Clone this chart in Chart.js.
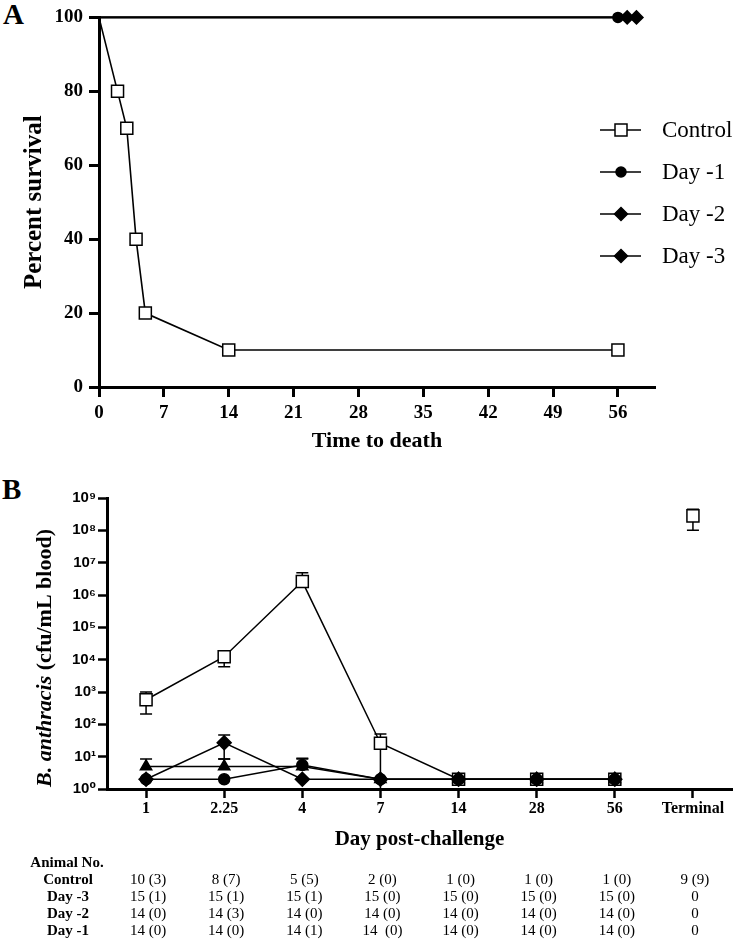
<!DOCTYPE html>
<html><head><meta charset="utf-8">
<script src="https://cdn.jsdelivr.net/npm/chart.js@4.4.0/dist/chart.umd.min.js"></script>
<style>
html,body{margin:0;padding:0;background:#fff;}
body{width:742px;height:939px;position:relative;overflow:hidden;}
canvas{position:absolute;left:0;}
.pl{position:absolute;font:bold 29px "Liberation Serif","Times New Roman",serif;line-height:28px;color:#000;}
</style></head><body>
<div class="pl" style="left:3px;top:0px">A</div>
<div class="pl" style="left:2px;top:475px">B</div>
<canvas id="ca" width="742" height="460" style="top:0px"></canvas>
<canvas id="cb" width="742" height="479" style="top:460px"></canvas>
<script>
// ---------- Panel A data ----------
const timeCtl = [0, 2, 3, 4, 5, 14, 56];
const survCtl = [100, 80, 70, 40, 20, 10, 10];
const timeD1 = [0, 56];
const survD1 = [100, 100];
const timeD2 = [0, 57];
const survD2 = [100, 100];
const timeD3 = [0, 58];
const survD3 = [100, 100];
const legendLabelsA = ['Control', 'Day -1', 'Day -2', 'Day -3'];

// ---------- Panel B data ----------
const catsB = ['1', '2.25', '4', '7', '14', '28', '56', 'Terminal'];
const ctlB  = [575, 12300, 2.6e6, 26, 2, 2, 2, 2.8e8];
const ctlHi = [1000, null, 4.9e6, 50, null, null, null, 4.5e8];
const ctlLo = [210, 6000, null, 1, null, null, null, 1e8];
const d1B   = [2, 2, 5.5, 2, 2, 2, 2, null];
const d1Hi  = [null, null, 9, null, null, null, null, null];
const d1Lo  = [null, null, null, null, null, null, null, null];
const d2B   = [2, 27, 2, 2, 2, 2, 2, null];
const d2Hi  = [null, 47, null, null, null, null, null, null];
const d2Lo  = [null, 8.5, null, null, null, null, null, null];
const d3B   = [5, 5, 5, 2, 2, 2, 2, null];
const d3Hi  = [8.5, 8.5, 8.5, null, null, null, null, null];
const d3Lo  = [null, null, null, null, null, null, null, null];
const tickPowB = [1, 10, 100, 1e3, 1e4, 1e5, 1e6, 1e7, 1e8, 1e9];

// ---------- Table ----------
const tableHeader = 'Animal No.';
const tableRowLabels = ['Control', 'Day -3', 'Day -2', 'Day -1'];
const tblCtl = ['10 (3)', '8 (7)', '5 (5)', '2 (0)', '1 (0)', '1 (0)', '1 (0)', '9 (9)'];
const tblD3  = ['15 (1)', '15 (1)', '15 (1)', '15 (0)', '15 (0)', '15 (0)', '15 (0)', '0'];
const tblD2  = ['14 (0)', '14 (3)', '14 (0)', '14 (0)', '14 (0)', '14 (0)', '14 (0)', '0'];
const tblD1  = ['14 (0)', '14 (0)', '14 (1)', '14  (0)', '14 (0)', '14 (0)', '14 (0)', '0'];

const SERIF = '"Liberation Serif", "Times New Roman", serif';
const SANS = '"Liberation Sans", Arial, "DejaVu Sans", sans-serif';
const zip = (xs, ys) => xs.map((x, i) => ({x, y: ys[i]}));
const endOnly = (arr, r) => arr.map((_, i) => i === arr.length - 1 ? r : 0);

function mark(ctx, style, x, y, fill) {
  ctx.beginPath();
  if (style === 'rect') ctx.rect(x - 6, y - 6, 12, 12);
  else if (style === 'circle') ctx.arc(x, y, 5, 0, Math.PI * 2);
  else { ctx.moveTo(x, y - 6.5); ctx.lineTo(x + 6.5, y); ctx.lineTo(x, y + 6.5); ctx.lineTo(x - 6.5, y); ctx.closePath(); }
  ctx.fillStyle = fill; ctx.fill(); ctx.stroke();
}

const legendA = {
  id: 'legendA',
  afterDraw(chart) {
    const ctx = chart.ctx;
    ctx.save();
    chart.data.datasets.forEach((ds, i) => {
      const y = 130 + 42 * i;
      ctx.strokeStyle = '#000'; ctx.lineWidth = 1.5;
      ctx.beginPath(); ctx.moveTo(600, y); ctx.lineTo(641, y); ctx.stroke();
      mark(ctx, ds.pointStyle, 621, y, ds.pointBackgroundColor);
      ctx.fillStyle = '#000';
      ctx.font = '23px ' + SERIF;
      ctx.textBaseline = 'middle'; ctx.textAlign = 'left';
      ctx.fillText(legendLabelsA[i], 662, y + 1);
    });
    ctx.restore();
  }
};

const axisStyle = (tl, tw) => ({
  border: {display: true, color: '#000', width: 3},
  grid: {display: true, drawOnChartArea: false, drawTicks: true, tickLength: tl, tickWidth: tw, tickColor: '#000', offset: false}
});

const lineDs = (label, data, style, radius, fill) => ({
  label, data, borderColor: '#000', borderWidth: 1.6, tension: 0, clip: false,
  pointStyle: style, pointRadius: radius, pointHoverRadius: radius,
  pointBackgroundColor: fill, pointBorderColor: '#000', pointBorderWidth: 1.5
});

new Chart(document.getElementById('ca'), {
  type: 'line',
  data: {
    datasets: [
      lineDs('Control', zip(timeCtl, survCtl), 'rect', timeCtl.map((t, i) => i === 0 ? 0 : 8.5), '#fff'),
      lineDs('Day -1', zip(timeD1, survD1), 'circle', endOnly(timeD1, 5), '#000'),
      lineDs('Day -2', zip(timeD2, survD2), 'rectRot', endOnly(timeD2, 6.5), '#000'),
      lineDs('Day -3', zip(timeD3, survD3), 'rectRot', endOnly(timeD3, 6.5), '#000')
    ]
  },
  options: {
    responsive: false, animation: false, events: [],
    layout: {padding: {left: 0, right: 87, top: 16, bottom: 0}},
    plugins: {legend: {display: false}, tooltip: {enabled: false}},
    scales: {
      x: Object.assign(axisStyle(10, 3), {
        type: 'linear', min: 0, max: 60,
        ticks: {stepSize: 7, includeBounds: false, maxRotation: 0, color: '#000', padding: 5,
                font: {family: SERIF, size: 19, weight: 'bold'}},
        title: {display: true, text: 'Time to death', color: '#000',
                font: {family: SERIF, size: 22, weight: 'bold'}, padding: {top: 0, bottom: 5}},
        afterFit(s) { s.height = 73; }
      }),
      y: Object.assign(axisStyle(10, 3), {
        type: 'linear', min: 0, max: 100,
        ticks: {stepSize: 20, color: '#000', padding: 6, font: {family: SERIF, size: 19, weight: 'bold'}},
        title: {display: true, text: 'Percent survival', color: '#000',
                font: {family: SERIF, size: 25, weight: 'bold'}, padding: {top: 20, bottom: 0}},
        afterFit(s) { s.width = 99; }
      })
    }
  },
  plugins: [legendA]
});

// ---------- Panel B ----------
const errorBars = {
  id: 'errorBars',
  beforeDatasetsDraw(chart) {
    const ctx = chart.ctx, xs = chart.scales.x, ys = chart.scales.y;
    ctx.save(); ctx.strokeStyle = '#000'; ctx.lineWidth = 1.5;
    chart.data.datasets.forEach(ds => {
      if (!ds.errHi) return;
      ds.data.forEach((v, i) => {
        if (v == null) return;
        const x = xs.getPixelForValue(i), y = ys.getPixelForValue(v);
        [ds.errHi[i], ds.errLo[i]].forEach(e => {
          if (e == null) return;
          const ye = ys.getPixelForValue(e);
          ctx.beginPath(); ctx.moveTo(x, y); ctx.lineTo(x, ye);
          ctx.moveTo(x - 6, ye); ctx.lineTo(x + 6, ye); ctx.stroke();
        });
      });
    });
    ctx.restore();
  }
};

const textB = {
  id: 'textB',
  afterDraw(chart) {
    const ctx = chart.ctx, xs = chart.scales.x;
    ctx.save();
    // y-axis title with italic species name
    const p1 = 'B. anthracis', p2 = ' (cfu/mL blood)';
    const f1 = 'italic bold 22px ' + SERIF, f2 = 'bold 22px ' + SERIF;
    ctx.font = f1; const w1 = ctx.measureText(p1).width;
    ctx.font = f2; const w2 = ctx.measureText(p2).width;
    ctx.translate(45, 198); ctx.rotate(-Math.PI / 2);
    ctx.fillStyle = '#000'; ctx.textBaseline = 'middle'; ctx.textAlign = 'left';
    const sx = -(w1 + w2) / 2;
    ctx.font = f1; ctx.fillText(p1, sx, 0);
    ctx.font = f2; ctx.fillText(p2, sx + w1, 0);
    ctx.setTransform(1, 0, 0, 1, 0, 0);
    // table
    ctx.textAlign = 'center'; ctx.textBaseline = 'middle';
    ctx.font = 'bold 15px ' + SERIF;
    ctx.fillText(tableHeader, 67, 403);
    const rows = [tblCtl, tblD3, tblD2, tblD1];
    const ys = [420, 437, 454, 471];
    rows.forEach((row, r) => {
      ctx.font = 'bold 15px ' + SERIF;
      ctx.fillText(tableRowLabels[r], 68, ys[r]);
      ctx.font = '15px ' + SERIF;
      row.forEach((t, j) => ctx.fillText(t, xs.getPixelForValue(j) + 2, ys[r]));
    });
    ctx.restore();
  }
};

const SUP = ['\u2070', '\u00B9', '\u00B2', '\u00B3', '\u2074', '\u2075', '\u2076', '\u2077', '\u2078', '\u2079'];

const bDs = (label, data, style, radius, fill, hi, lo, order) => Object.assign(
  lineDs(label, data, style, radius, fill), {errHi: hi, errLo: lo, order, borderWidth: 1.5});

const ctlDs = bDs('Control', ctlB, 'rect', 8.5, '#fff', ctlHi, ctlLo, 10);
ctlDs.segment = {borderColor: c => c.p1DataIndex === catsB.length - 1 ? 'rgba(0,0,0,0)' : '#000'};

new Chart(document.getElementById('cb'), {
  type: 'line',
  data: {
    labels: catsB,
    datasets: [
      ctlDs,
      bDs('Day -3', d3B, 'triangle', 6.5, '#000', d3Hi, d3Lo, 3),
      bDs('Day -2', d2B, 'rectRot', 7, '#000', d2Hi, d2Lo, 2),
      bDs('Day -1', d1B, 'circle', 5.5, '#000', d1Hi, d1Lo, 1)
    ]
  },
  options: {
    responsive: false, animation: false, events: [],
    layout: {padding: {left: 0, right: 2, top: 38, bottom: 0}},
    plugins: {legend: {display: false}, tooltip: {enabled: false}},
    scales: {
      x: Object.assign(axisStyle(9, 2.5), {
        type: 'category', offset: true,
        ticks: {maxRotation: 0, autoSkip: false, color: '#000', padding: 1,
                font: {family: SERIF, size: 16, weight: 'bold'}},
        title: {display: true, text: 'Day post-challenge', color: '#000',
                font: {family: SERIF, size: 21, weight: 'bold'}, padding: {top: 0, bottom: 87}},
        afterFit(s) { s.height = 150; }
      }),
      y: Object.assign(axisStyle(9, 2.5), {
        type: 'logarithmic', min: 1, max: 1e9,
        afterBuildTicks(s) { s.ticks = tickPowB.map(v => ({value: v})); },
        ticks: {color: '#000', padding: 2, font: {family: SANS, size: 15, weight: 'bold'},
                callback: v => '10' + SUP[Math.round(Math.log10(v))]},
        title: {display: false},
        afterFit(s) { s.width = 107; }
      })
    }
  },
  plugins: [errorBars, textB]
});
</script>
</body></html>
